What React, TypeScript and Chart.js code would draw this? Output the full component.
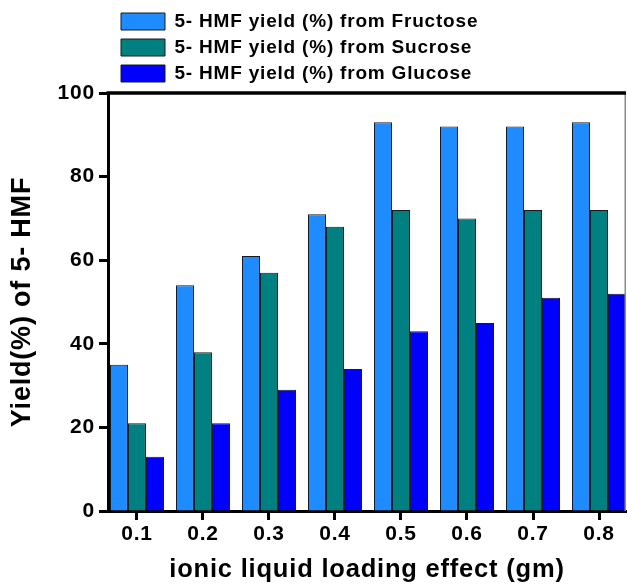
import React, { useEffect, useRef } from 'react';
import { Chart, registerables } from 'chart.js';

Chart.register(...registerables);

// ---- data ----
const loadings = [0.1, 0.2, 0.3, 0.4, 0.5, 0.6, 0.7, 0.8];
const xTickLabels = ['0.1', '0.2', '0.3', '0.4', '0.5', '0.6', '0.7', '0.8'];
const fructoseYield = [35, 54, 61, 71, 93, 92, 92, 93];
const sucroseYield = [21, 38, 57, 68, 72, 70, 72, 72];
const glucoseYield = [13, 21, 29, 34, 43, 45, 51, 52];
const seriesNames = [
  '5- HMF yield (%) from Fructose',
  '5- HMF yield (%) from Sucrose',
  '5- HMF yield (%) from Glucose',
];
const yTickValues = [0, 20, 40, 60, 80, 100];
const xAxisTitle = 'ionic liquid loading effect (gm)';
const yAxisTitle = 'Yield(%) of 5- HMF';

const FONT = "'Liberation Sans', Arial, Helvetica, sans-serif";

const spacing = {
  id: 'spacing',
  beforeUpdate(chart: any) {
    chart.ctx.letterSpacing = '0.8px';
  },
  beforeDraw(chart: any) {
    chart.ctx.letterSpacing = '0.8px';
  },
};

const shiftLegend = {
  id: 'shiftLegend',
  afterLayout(chart: any) {
    const lg = chart.legend;
    if (lg) {
      const w = lg.right - lg.left;
      lg.left = 114;
      lg.right = 114 + w;
    }
  },
};

const frame = {
  id: 'frame',
  afterDraw(chart: any) {
    const { ctx, chartArea } = chart;
    ctx.save();
    ctx.strokeStyle = '#8a8a8a';
    ctx.lineWidth = 1.5;
    ctx.beginPath();
    ctx.moveTo(chartArea.right - 0.75, chartArea.top);
    ctx.lineTo(chartArea.right - 0.75, chartArea.bottom);
    ctx.stroke();
    ctx.strokeStyle = '#000';
    ctx.lineWidth = 3.5;
    ctx.beginPath();
    ctx.moveTo(chartArea.left - 1.5, chartArea.top);
    ctx.lineTo(chartArea.right, chartArea.top);
    ctx.stroke();
    ctx.restore();
  },
};

export default function App() {
  const ref = useRef<HTMLCanvasElement>(null);
  useEffect(() => {
    if (!ref.current) return;
    const pts = (vals: number[]) => loadings.map((x, i) => ({ x, y: vals[i] }));
    const colors = ['#1E8CFF', '#008080', '#0000FF'];
    const series = [fructoseYield, sucroseYield, glucoseYield];
    const chart = new Chart(ref.current, {
      type: 'bar',
      data: {
        datasets: series.map((s, i) => ({
          label: seriesNames[i],
          data: pts(s),
          backgroundColor: colors[i],
          borderColor: '#1a1a1a',
          borderWidth: 1,
          categoryPercentage: 54 / 66,
          barPercentage: 1,
        })),
      },
      options: {
        animation: false,
        responsive: true,
        maintainAspectRatio: false,
        layout: { padding: { top: 5, right: 2, left: 0, bottom: 0 } },
        plugins: {
          tooltip: { enabled: false },
          legend: {
            position: 'top',
            align: 'start',
            labels: {
              boxWidth: 44,
              boxHeight: 17,
              padding: 7,
              color: '#000',
              font: { family: FONT, size: 19, weight: 'bold' },
            },
          },
        },
        scales: {
          x: {
            type: 'linear',
            min: 0.0561,
            max: 0.8409,
            offset: false,
            afterBuildTicks: (scale: any) => {
              scale.ticks = loadings.map((v) => ({ value: v }));
            },
            afterFit: (scale: any) => {
              scale.height = 74;
            },
            grid: {
              offset: false,
              drawOnChartArea: false,
              drawTicks: true,
              tickLength: 9,
              tickWidth: 3,
              tickColor: '#000',
            },
            border: { display: true, color: '#000', width: 3 },
            ticks: {
              padding: 2,
              color: '#000',
              font: { family: FONT, size: 21, weight: 'bold' },
              callback: (_v: any, i: number) => xTickLabels[i],
            },
            title: {
              display: true,
              text: xAxisTitle,
              color: '#000',
              font: { family: FONT, size: 25.5, weight: 'bold' },
              padding: { top: 0, bottom: 0 },
            },
          },
          y: {
            min: 0,
            max: 100,
            afterBuildTicks: (scale: any) => {
              scale.ticks = yTickValues.map((v) => ({ value: v }));
            },
            afterFit: (scale: any) => {
              scale.width = 108;
            },
            grid: {
              drawOnChartArea: false,
              drawTicks: true,
              tickLength: 9,
              tickWidth: 3,
              tickColor: '#000',
            },
            border: { display: true, color: '#000', width: 3 },
            ticks: {
              padding: 4,
              color: '#000',
              font: { family: FONT, size: 21, weight: 'bold' },
            },
            title: {
              display: true,
              text: yAxisTitle,
              color: '#000',
              font: { family: FONT, size: 27, weight: 'bold' },
              padding: { top: 6, bottom: 0 },
            },
          },
        },
      },
      plugins: [spacing, shiftLegend, frame],
    } as any);
    return () => chart.destroy();
  }, []);
  return (
    <div style={{ position: 'absolute', left: 0, top: 0, width: 628, height: 585, background: '#fff' }}>
      <canvas ref={ref} />
    </div>
  );
}
